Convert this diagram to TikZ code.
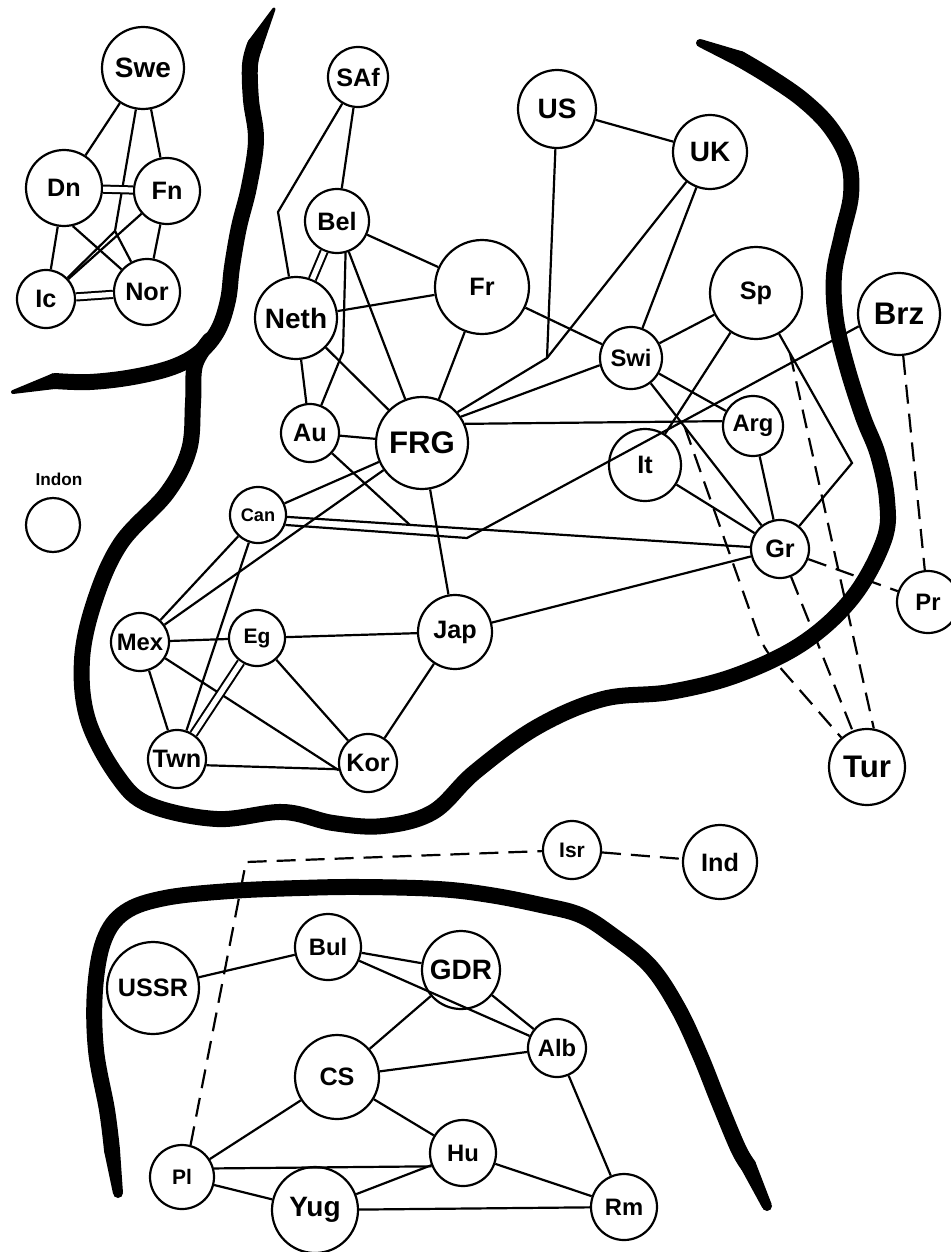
\documentclass[tikz,border=0pt]{standalone}
\usepackage{fontspec}
\setsansfont{Liberation Sans}
\usetikzlibrary{positioning,calc}
\newcommand{\tipend}[3]{\fill ($(#1)!4pt!90:(#2)$) -- ($(#2)!#3!-90:(#1)$) -- ($(#2)!#3!90:(#1)$) -- ($(#1)!4pt!-90:(#2)$) -- cycle; \fill (#2) circle[radius=#3];}

\begin{document}
\begin{tikzpicture}[x=0.5pt, y=-0.5pt, line width=1.1pt,
        ctry/.style={circle, draw, inner sep=0pt,
          font=\sffamily\bfseries\fontsize{12.6}{13}\selectfont},
        big/.style={font=\sffamily\bfseries\fontsize{15.6}{16}\selectfont},
        mid/.style={font=\sffamily\bfseries\fontsize{14}{15}\selectfont},
        sml/.style={font=\sffamily\bfseries\fontsize{11.9}{12}\selectfont},
        tny/.style={font=\sffamily\bfseries\fontsize{10.5}{11}\selectfont},
        lbl/.style={font=\sffamily\bfseries\fontsize{8.6}{9}\selectfont, inner sep=0pt},
        tie/.style={double, double distance=2.6pt, line width=1pt},
        dsh/.style={dash pattern=on 9.5pt off 5pt},
        bound/.style={line width=8pt, line cap=round, line join=round}
        ]
        \path[fill=white, use as bounding box] (0,0) rectangle (951,1252);

        \node[ctry, mid, minimum size=41pt] (Swe) at (143,68) {Swe};
        \node[ctry, minimum size=38pt] (Dn) at (64,188) {Dn};
        \node[ctry, minimum size=33pt] (Fn) at (167,191) {Fn};
        \node[ctry, minimum size=29pt] (Ic) at (46,299) {Ic};
        \node[ctry, minimum size=33pt] (Nor) at (147,292) {Nor};

        \node[ctry, minimum size=30pt] (SAf) at (358,77) {SAf};
        \node[ctry, minimum size=32pt] (Bel) at (337,221) {Bel};
        \node[ctry, mid, minimum size=41pt] (Neth) at (296,318) {Neth};
        \node[ctry, minimum size=29pt] (Au) at (310,433) {Au};
        \node[ctry, big, minimum size=46pt] (FRG) at (422,443) {FRG};
        \node[ctry, minimum size=47pt] (Fr) at (482,287) {Fr};
        \node[ctry, mid, minimum size=39pt] (US) at (557,109) {US};
        \node[ctry, mid, minimum size=37pt] (UK) at (710,152) {UK};
        \node[ctry, minimum size=46pt] (Sp) at (756,293) {Sp};
        \node[ctry, sml, minimum size=31pt] (Swi) at (631,358) {Swi};
        \node[ctry, big, minimum size=41pt] (Brz) at (899,314) {Brz};
        \node[ctry, sml, minimum size=30pt] (Arg) at (753,426) {Arg};
        \node[ctry, minimum size=36pt] (It) at (645,465) {It};
        \node[ctry, minimum size=29pt] (Gr) at (780,549) {Gr};
        \node[ctry, sml, minimum size=31pt] (Pr) at (928,602) {Pr};
        \node[ctry, big, minimum size=38pt] (Tur) at (867,767) {Tur};
        \node[ctry, font=\sffamily\bfseries\fontsize{9.1}{10}\selectfont, minimum size=28pt] (Can) at (258,515) {Can};
        \node[ctry, sml, minimum size=29pt] (Mex) at (140,642) {Mex};
        \node[ctry, tny, minimum size=28pt] (Eg) at (257,638) {Eg};
        \node[ctry, minimum size=37pt] (Jap) at (455,632) {Jap};
        \node[ctry, minimum size=29pt] (Twn) at (177,759) {Twn};
        \node[ctry, minimum size=29pt] (Kor) at (368,763) {Kor};
        \node[ctry, minimum size=27pt] (Indon) at (53,525) {};
        \node[lbl, above=5pt of Indon, xshift=3pt] (IndonL) {Indon};

        \node[ctry, tny, minimum size=29pt] (Isr) at (572,850) {Isr};
        \node[ctry, minimum size=37pt] (Ind) at (720,862) {Ind};
        \node[ctry, minimum size=46pt] (USSR) at (153,988) {USSR};
        \node[ctry, sml, minimum size=33pt] (Bul) at (328,947) {Bul};
        \node[ctry, mid, minimum size=39pt] (GDR) at (461,970) {GDR};
        \node[ctry, sml, minimum size=29pt] (Alb) at (557,1048) {Alb};
        \node[ctry, minimum size=42pt] (CS) at (337,1077) {CS};
        \node[ctry, sml, minimum size=33pt] (Hu) at (463,1153) {Hu};
        \node[ctry, tny, minimum size=32pt] (Pl) at (182,1177) {Pl};
        \node[ctry, mid, minimum size=43pt] (Yug) at (315,1210) {Yug};
        \node[ctry, sml, minimum size=33pt] (Rm) at (624,1207) {Rm};

        \coordinate (nb) at (115,231);
        \coordinate (sb) at (278,212);
        \coordinate (bb) at (343,352);
        \coordinate (ub) at (547,358);
        \coordinate (ab) at (410,525);
        \coordinate (cb) at (467,538);
        \coordinate (pb) at (852,463);
        \coordinate (sd) at ($(Sp)!0.353!(pb)$);
        \coordinate (wd) at ($(Swi)!0.36!(Gr)$);
        \coordinate (wc) at (763,648);
        \coordinate (lc) at (246,862);

        \draw (Swe) -- (Dn);
        \draw (Swe) -- (Fn);
        \draw (Swe) -- (nb) -- (Ic);
        \draw (nb) -- (Nor);
        \draw[tie] (Dn) -- (Fn);
        \draw (Dn) -- (Ic);
        \draw (Dn.-77) -- (Nor);
        \draw (Fn) -- (Ic);
        \draw (Fn) -- (Nor);
        \draw[tie] (Ic) -- (Nor);

        \draw (SAf) -- (Bel);
        \draw (SAf) -- (sb) -- (Neth);
        \draw[tie] (Bel) -- (Neth);
        \draw (Bel) -- (Fr);
        \draw (Bel.-75) -- (bb) -- (Au);
        \draw (Bel) -- (FRG);
        \draw (Neth) -- (Fr);
        \draw (Neth) -- (Au);
        \draw (Neth) -- (FRG);
        \draw (Au) -- (FRG);
        \draw (Au) -- (ab);
        \draw (FRG) -- (Fr);
        \draw (FRG.41) -- (ub) -- (UK);
        \draw (US) -- (ub);
        \draw (FRG.34) -- (Swi.193);
        \draw (FRG.24) -- (Arg.171);
        \draw (FRG) -- (Can);
        \draw (FRG) -- (Mex);
        \draw (FRG) -- (Jap);
        \draw (US) -- (UK);
        \draw (UK) -- (Swi);
        \draw (Fr) -- (Swi);
        \draw (Sp) -- (Swi);
        \draw (Sp) -- (It);
        \draw (Sp) -- (pb) -- (Gr);
        \draw[dsh] (sd) -- (Tur.80);
        \draw (Swi) -- (Arg);
        \draw (Swi) -- (Gr);
        \draw[dsh, rounded corners=8pt] (wd) -- (wc) -- (Tur);
        \draw (Arg) -- (Gr);
        \draw (It) -- (Gr);
        \draw (Can) -- (Gr);
        \draw (Can.-20) -- (cb) -- (Brz.197);
        \draw (Gr) -- (Jap);
        \draw[dsh] (Gr) -- (Pr);
        \draw[dsh] (Gr) -- (Tur);
        \draw[dsh] (Brz) -- (Pr);
        \draw (Can) -- (Mex);
        \draw (Can) -- (Twn);
        \draw (Mex) -- (Eg);
        \draw (Mex) -- (Twn);
        \draw (Mex) -- (Kor.194);
        \draw[tie] (Eg) -- (Twn);
        \draw (Eg) -- (Jap);
        \draw (Eg) -- (Kor);
        \draw (Jap) -- (Kor);
        \draw (Twn.-12) -- (Kor.192);

        \draw (USSR) -- (Bul);
        \draw (Bul) -- (GDR);
        \draw (Bul) -- (Alb);
        \draw (GDR) -- (Alb);
        \draw (GDR) -- (CS);
        \draw (CS) -- (Alb);
        \draw (CS) -- (Pl);
        \draw (CS) -- (Hu);
        \draw (Alb) -- (Rm);
        \draw (Pl.15) -- (Hu.203);
        \draw (Pl) -- (Yug);
        \draw (Yug) -- (Hu);
        \draw (Hu) -- (Rm);
        \draw (Yug) -- (Rm);
        \draw[dsh] (Pl.75) -- (lc) -- (Isr);
        \draw[dsh] (Isr) -- (Ind);

        \draw[bound] plot[smooth, tension=0.6] coordinates {(255,45) (250,65) (251,100) (256,140) (249,187)
          (239,227) (232,267) (228,300) (218,330) (200,352) (173,367) (133,377) (90,382) (55,381)};
        \tipend{255,45}{274,9}{0.8pt}
        \tipend{55,381}{13,392}{1pt}
        \draw[bound] plot[smooth, tension=0.6] coordinates {(210,340) (195,365) (193,403) (189,450)
          (167,493) (121,543) (95,600) (82,660) (88,720) (118,777) (150,805) (217,819) (283,812)
          (333,823) (383,826) (433,812) (475,772) (537,727) (603,699) (670,692) (737,675) (803,643)
          (853,597) (884,540) (887,500) (878,455) (863,417) (847,367) (836,320) (834,275) (842,235)
          (851,195) (848,160) (830,127) (803,100) (770,77) (740,59)};
        \tipend{740,59}{700,43}{2pt}
        \draw[bound] plot[smooth, tension=0.6] coordinates {(112,1150) (107,1110) (96,1050) (95,990)
          (104,940) (125,912) (165,898) (230,891) (300,888) (361,887) (438,889) (490,895) (541,905)
          (580,915) (612,935) (650,966) (678,1008) (700,1055) (718,1100) (738,1148) (748,1165)};
        \tipend{112,1150}{118,1193}{2.5pt}
        \tipend{748,1165}{767,1206}{2.5pt}
      \end{tikzpicture}
\end{document}
